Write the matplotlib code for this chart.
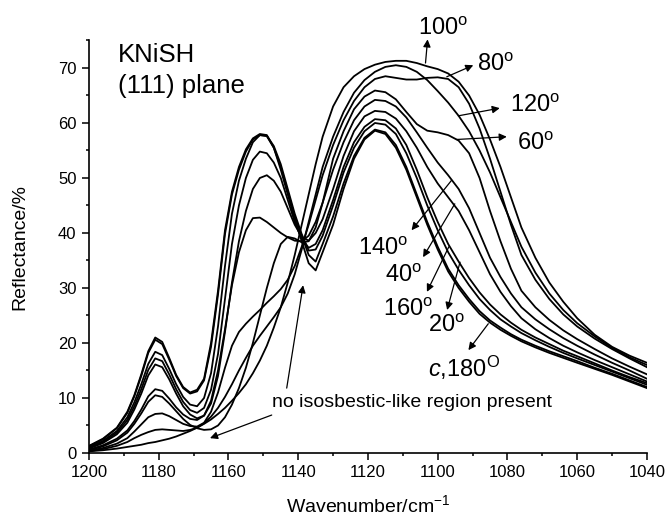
import matplotlib
matplotlib.use('Agg')
import matplotlib.pyplot as plt
from matplotlib.ticker import MultipleLocator

plt.rcParams['font.family'] = ['Liberation Sans', 'DejaVu Sans']
plt.rcParams['mathtext.fontset'] = 'custom'
plt.rcParams['mathtext.rm'] = 'Liberation Sans'
plt.rcParams['mathtext.it'] = 'Liberation Sans:italic'

# wavenumber grid (cm-1)
wn = [1200, 1196, 1192, 1189, 1187, 1185, 1183, 1181, 1179, 1177,
      1175, 1173, 1171, 1169, 1167, 1165, 1163, 1161, 1159, 1157,
      1155, 1153, 1151, 1149, 1147, 1145, 1143, 1141, 1139, 1137,
      1135, 1133, 1130, 1127, 1124, 1121, 1118, 1115, 1112, 1109,
      1106, 1103, 1100, 1097, 1094, 1091, 1088, 1085, 1082, 1079,
      1076, 1072, 1068, 1064, 1060, 1055, 1050, 1045, 1040]

# reflectance (%) for each polarisation angle
r180 = [1.3, 2.6, 4.6, 7.5, 10.5, 14.3, 18.5, 21.0, 20.2, 17.3,
        14.2, 12.0, 11.0, 11.5, 13.5, 20.0, 29.5, 40.5, 47.5, 52.0,
        55.2, 57.2, 58.0, 57.8, 55.5, 51.5, 47.0, 42.5, 38.5, 34.5,
        33.2, 36.5, 41.5, 48.0, 53.5, 57.0, 58.6, 58.0, 55.5, 51.5,
        46.5, 41.5, 37.0, 33.0, 30.0, 27.5, 25.3, 23.7, 22.4, 21.3,
        20.3, 19.2, 18.2, 17.3, 16.4, 15.3, 14.2, 13.0, 11.8]
r0 = [1.2, 2.5, 4.5, 7.3, 10.3, 14.0, 18.2, 20.6, 19.8, 17.0,
      14.0, 11.8, 10.8, 11.2, 13.2, 19.3, 28.8, 39.8, 47.0, 51.5,
      54.8, 57.0, 57.8, 57.6, 55.5, 52.0, 47.5, 43.0, 39.5, 36.0,
      34.8, 38.0, 43.0, 49.0, 54.0, 57.3, 58.8, 58.3, 56.0, 52.0,
      47.0, 42.0, 37.5, 33.5, 30.5, 28.0, 25.8, 24.1, 22.8, 21.6,
      20.6, 19.5, 18.5, 17.6, 16.7, 15.5, 14.4, 13.2, 12.0]
r20 = [1.0, 2.2, 4.0, 6.5, 9.2, 12.5, 16.2, 18.4, 17.8, 15.3,
       12.5, 10.2, 8.8, 8.5, 10.0, 14.5, 23.0, 34.0, 43.5, 49.5,
       53.5, 56.5, 57.8, 57.7, 55.8, 52.5, 48.0, 43.5, 39.8, 36.8,
       37.0, 39.5, 45.0, 51.0, 55.5, 58.5, 60.0, 59.7, 58.0, 54.5,
       50.0, 45.0, 40.5, 36.5, 33.3, 30.5, 28.0, 26.0, 24.3, 23.0,
       21.8, 20.5, 19.3, 18.2, 17.2, 16.0, 14.8, 13.6, 12.4]
r160 = [0.9, 2.0, 3.7, 6.0, 8.5, 11.6, 15.1, 17.2, 16.7, 14.3,
        11.6, 9.3, 7.8, 7.3, 8.2, 11.5, 18.0, 28.0, 38.0, 45.0,
        50.0, 53.3, 54.8, 54.5, 52.8, 50.0, 46.0, 42.0, 39.0, 37.3,
        38.0, 40.5, 46.0, 52.0, 56.5, 59.3, 60.7, 60.5, 59.0, 56.0,
        51.5, 46.5, 42.0, 38.0, 34.8, 31.8, 29.2, 27.0, 25.2, 23.7,
        22.4, 21.0, 19.8, 18.6, 17.6, 16.3, 15.0, 13.8, 12.7]
r40 = [0.8, 1.8, 3.4, 5.5, 7.9, 10.8, 14.1, 16.1, 15.6, 13.4,
       10.8, 8.5, 7.0, 6.3, 6.8, 9.0, 14.0, 22.0, 31.0, 38.5,
       44.0, 48.0, 50.0, 50.5, 49.5, 47.5, 44.5, 41.5, 39.3, 38.6,
       40.0, 42.5, 48.0, 54.0, 58.5, 61.2, 62.2, 62.0, 60.8, 58.5,
       55.5, 52.0, 49.0, 46.5, 44.0, 40.5, 36.5, 32.5, 29.3, 26.7,
       24.5, 22.5, 20.9, 19.5, 18.3, 16.9, 15.6, 14.3, 13.0]
r140 = [0.6, 1.4, 2.6, 4.1, 5.8, 7.9, 10.3, 11.6, 11.3, 9.9,
        8.3, 7.0, 6.2, 6.0, 6.8, 9.5, 15.0, 22.5, 30.5, 36.5,
        40.5, 42.7, 42.8, 42.0, 41.0, 40.0, 39.2, 38.6, 38.5, 39.5,
        42.0, 45.5, 51.5, 56.5, 60.5, 63.0, 64.2, 64.0, 63.0, 61.0,
        58.3, 55.5, 52.8, 50.5, 48.0, 44.5, 40.0, 35.5, 32.0, 29.0,
        26.5, 24.3, 22.5, 20.9, 19.5, 17.9, 16.4, 15.0, 13.5]
r60 = [0.5, 1.2, 2.3, 3.7, 5.3, 7.2, 9.3, 10.5, 10.2, 9.0,
       7.6, 6.2, 5.1, 4.5, 4.2, 4.3, 5.0, 6.5, 8.8, 11.8,
       15.5, 20.0, 25.0, 30.0, 34.5, 38.0, 39.3, 39.0, 38.3, 38.5,
       41.0, 45.5, 53.5, 58.5, 62.5, 64.8, 65.9, 65.6, 64.3, 62.0,
       59.8, 58.6, 58.3, 57.8, 56.8, 54.5, 50.0, 44.0, 38.5, 33.5,
       29.5, 26.5, 24.2, 22.3, 20.7, 18.9, 17.2, 15.7, 14.3]
r80 = [0.4, 0.9, 1.7, 2.7, 3.9, 5.2, 6.5, 7.1, 7.2, 6.7,
       6.0, 5.3, 4.9, 4.8, 5.5, 7.5, 11.0, 15.5, 19.5, 22.0,
       23.5, 24.8, 26.0, 27.3, 28.5, 29.8, 31.5, 34.0, 37.5, 41.5,
       46.0, 50.5, 56.0, 60.5, 64.0, 66.5, 68.0, 68.5, 68.2, 67.9,
       67.9, 68.2, 68.3, 68.0, 66.5, 63.5, 59.0, 53.5, 47.5, 41.5,
       36.0, 31.5, 28.0, 25.2, 23.0, 20.8, 18.9, 17.2, 15.6]
r120 = [0.35, 0.7, 1.3, 2.0, 2.7, 3.3, 3.8, 4.2, 4.3, 4.2,
        4.1, 4.0, 4.2, 4.6, 5.4, 6.6, 8.2, 10.2, 12.5, 15.0,
        17.3, 19.5, 21.3, 23.0, 24.7, 26.5, 29.0, 32.5, 37.0, 42.0,
        47.0, 52.0, 57.5, 62.0, 65.5, 67.8, 69.3, 70.2, 70.5, 70.2,
        69.3, 67.8, 65.8, 63.7, 61.3, 58.5, 55.0, 51.0, 46.5, 42.0,
        37.5, 32.8, 29.0, 26.0, 23.6, 21.2, 19.1, 17.4, 16.0]
r100 = [0.3, 0.5, 0.8, 1.1, 1.3, 1.5, 1.8, 2.0, 2.3, 2.6,
        3.0, 3.5, 4.0, 4.6, 5.3, 6.1, 7.1, 8.2, 9.5, 10.9,
        12.5, 14.5, 16.8, 19.5, 22.8, 26.5, 31.0, 36.0, 41.5, 47.0,
        52.5, 57.5, 63.0, 66.5, 68.5, 69.8, 70.6, 71.1, 71.3, 71.3,
        70.9, 70.3, 69.8, 69.0, 67.5, 65.0, 61.5, 57.0, 52.0, 46.5,
        41.0, 35.5, 31.0, 27.5, 24.5, 21.5, 19.3, 17.7, 16.4]

spectra = [r0, r20, r40, r60, r80, r100, r120, r140, r160, r180]

fig = plt.figure(figsize=(6.66, 5.17), dpi=100)
ax = fig.add_axes([0.1336, 0.1238, 0.8378, 0.7979])

for r in spectra:
    ax.plot(wn, r, color='black', lw=1.3, solid_joinstyle='round')

ax.set_xlim(1200, 1040)
ax.set_ylim(0, 75)
ax.xaxis.set_major_locator(MultipleLocator(20))
ax.xaxis.set_minor_locator(MultipleLocator(10))
ax.yaxis.set_major_locator(MultipleLocator(10))
ax.yaxis.set_minor_locator(MultipleLocator(5))
ax.spines['top'].set_visible(False)
ax.spines['right'].set_visible(False)
ax.spines['left'].set_linewidth(1.2)
ax.spines['bottom'].set_linewidth(1.2)
ax.tick_params(which='major', direction='out', length=5, width=1.1, labelsize=12, pad=4)
ax.tick_params(which='minor', direction='out', length=2.5, width=1.1)

ax.set_xlabel('Wavenumber/cm$^{-1}$', fontsize=14)
ax.set_ylabel('Reflectance/%', fontsize=14)
ax.xaxis.label.set_va('baseline')
ax.xaxis.set_label_coords(0.5, -0.143)
ax.yaxis.set_label_coords(-0.109, 0.5)

ax.text(1191.7, 71.1, 'KNiSH', fontsize=18.5, va='baseline')
ax.text(1191.7, 65.5, '(111) plane', fontsize=18.5, va='baseline')

arrow = dict(arrowstyle='-|>', color='black', lw=0.9, mutation_scale=11,
             shrinkA=0, shrinkB=0)

# (label, text x, text y, arrow start, arrow tip)
labels = [
    (r'100$^\mathrm{o}$', 1105.7, 76.0, (1103.5, 70.9), (1102.9, 75.2)),
    (r'80$^\mathrm{o}$', 1088.8, 69.5, (1097.4, 68.4), (1089.8, 70.5)),
    (r'120$^\mathrm{o}$', 1079.3, 62.0, (1094.1, 61.3), (1082.2, 62.7)),
    (r'60$^\mathrm{o}$', 1077.4, 55.1, (1094.6, 57.0), (1080.2, 57.5)),
    (r'140$^\mathrm{o}$', 1122.9, 36.0, (1096.0, 49.6), (1107.5, 40.5)),
    (r'40$^\mathrm{o}$', 1115.1, 31.1, (1095.1, 45.3), (1104.2, 35.6)),
    (r'160$^\mathrm{o}$', 1115.7, 24.9, (1096.8, 37.5), (1103.1, 29.3)),
    (r'20$^\mathrm{o}$', 1102.8, 22.0, (1093.6, 34.7), (1097.3, 26.0)),
    (r'$\mathit{c}$,180$^\mathrm{O}$', 1102.8, 13.8, (1085.5, 23.5), (1091.2, 18.7)),
]
for txt, tx, ty, start, tip in labels:
    ax.text(tx, ty, txt, fontsize=17, va='baseline', clip_on=False)
    ax.annotate('', xy=tip, xytext=start, arrowprops=arrow, annotation_clip=False)

ax.text(1147.6, 8.4, 'no isosbestic-like region present', fontsize=14, va='baseline')
ax.annotate('', xy=(1165.3, 2.7), xytext=(1147.6, 6.9), arrowprops=arrow)
ax.annotate('', xy=(1138.6, 30.5), xytext=(1143.3, 11.8), arrowprops=arrow)

fig.savefig('out.png', dpi=100)
